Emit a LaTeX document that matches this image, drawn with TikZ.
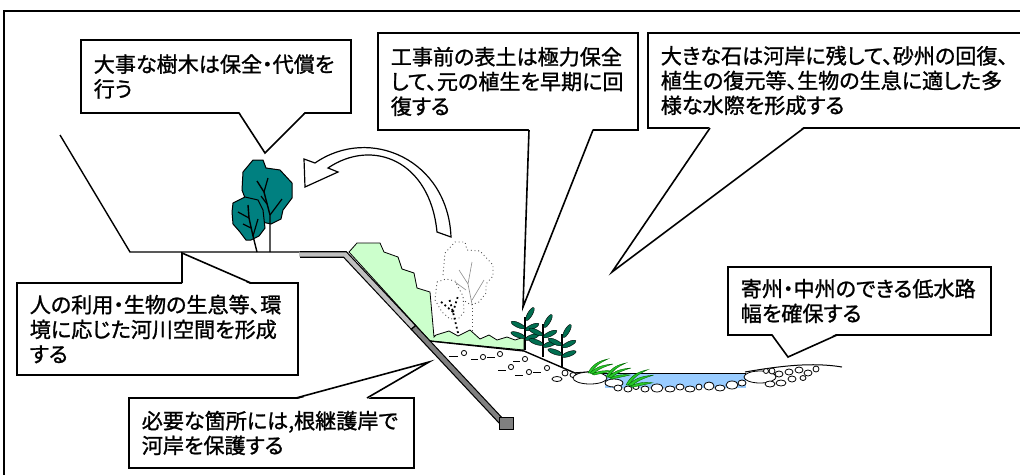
\documentclass[tikz,border=0pt]{standalone}
\usepackage{fontspec}
\setmainfont{Noto Sans CJK JP}[RawFeature=+palt]
\newfontfamily\notefont{Noto Sans CJK JP}[RawFeature=+palt, FakeBold=1.2]
\usetikzlibrary{positioning, calc}

\definecolor{treeteal}{RGB}{0,128,128}
\definecolor{soilgreen}{RGB}{204,255,204}
\definecolor{leafgreen}{RGB}{0,110,80}
\definecolor{grassgreen}{RGB}{40,200,40}
\definecolor{waterblue}{RGB}{153,204,255}
\definecolor{wallgray}{RGB}{192,192,192}
\definecolor{walldark}{RGB}{128,128,128}

\tikzset{
  note/.style={draw, fill=white, line width=0.45mm, anchor=north west, align=left,
    outer sep=0pt, inner xsep=3.2mm, inner ysep=0pt,
    font=\notefont\fontsize{15pt}{17.6pt}\selectfont},
  tail/.style={line width=0.4mm},
  outline/.style={line width=0.35mm},
  leaf/.style={fill=leafgreen, draw=black, line width=0.1mm},
  grass/.style={fill=grassgreen, draw=black!60!green, line width=0.1mm},
  stone/.style={draw, fill=white, line width=0.2mm},
  ghost/.style={draw=black!70, dotted, line width=0.22mm},
  seedling/.pic={
    \draw[line width=0.35mm] (0,0) -- (0,-33);
    \foreach \dx/\dy/\a in {5/-36/60, -7/-25/-25, 7/-23/25, -7/-15/-20, 7/-13/20}
      \filldraw[leaf, rotate around={\a:(\dx,\dy)}] (\dx,\dy) ellipse [x radius=7.5, y radius=2.4];
  },
  tuft/.pic={
    \filldraw[grass] (0,0) .. controls (4,-8) and (10,-12) .. (20,-14) .. controls (11,-10) and (6,-6) .. (3,0) -- cycle;
    \filldraw[grass] (2,0) .. controls (8,-6) and (14,-8) .. (25,-9) .. controls (15,-6) and (9,-3) .. (5,1) -- cycle;
    \filldraw[grass] (4,1) .. controls (10,-2) and (16,-3) .. (24,-2) .. controls (16,0) and (10,1) .. (6,2) -- cycle;
  }
}

% callout tail: anchor, two offsets along the edge, tip, inward shift
\newcommand{\calloutTail}[5]{%
  \fill[white] ([shift={(#2,#5)}]#1) -- (#4) -- ([shift={(#3,#5)}]#1) -- cycle;
  \draw[tail] ([shift={(#2,0)}]#1) -- (#4) -- ([shift={(#3,0)}]#1);}

\begin{document}
\begin{tikzpicture}[x=0.25mm, y=-0.25mm]
  \useasboundingbox (0,0) rectangle (1020,474);
  \clip (0,0) rectangle (1020,474);
  \draw[line width=0.45mm] (4,11) rectangle (1030,480);

  % bank outline
  \draw[outline] (60,135) -- (130,252) -- (300,252);

  % trees kept on the bank
  \filldraw[fill=treeteal, line width=0.25mm] (253,160) -- (263,160) -- (266,168) -- (280,170) -- (292,183)
    -- (292,198) -- (283,210) -- (281,219) -- (271,224) -- (262,222) -- (250,205) -- (245,198)
    -- (242,190) -- (243,172) -- cycle;
  \draw[line width=0.35mm] (270,252) -- (270,215) -- (264,192) -- (257,181);
  \draw[line width=0.3mm] (264,192) -- (268,178) (270,215) -- (282,199) (267,204) -- (261,196);
  \filldraw[fill=treeteal, line width=0.25mm] (233,203) -- (245,197) -- (258,200) -- (263,210) -- (265,228)
    -- (259,236) -- (251,240) -- (246,240) -- (240,232) -- (233,224) -- (232,212) -- cycle;
  \draw[line width=0.35mm] (257,252) -- (253,236) -- (249,218) -- (248,205);
  \draw[line width=0.3mm] (249,218) -- (238,212) (253,236) -- (258,219) (251,228) -- (243,224);

  % transplant arrow
  \filldraw[fill=white, line width=0.3mm] (315,163) -- (304,159) -- (305,187) -- (338,172) -- (328,168)
    .. controls (372,138) and (430,160) .. (437,232) -- (451,237)
    .. controls (448,160) and (370,125) .. (315,163) -- cycle;

  % topsoil kept on the slope
  \filldraw[fill=soilgreen, line width=0.2mm] (349,252) -- (357,243) -- (380,243) -- (384,252) -- (398,257)
    -- (402,269) -- (414,273) -- (417,288) -- (430,292) -- (434,337) -- (436,335) -- (449,331)
    -- (458,336) -- (470,330) -- (480,339) -- (489,335) -- (497,340) -- (507,337) -- (515,340)
    -- (524,337) -- (524,350) -- (430,341) -- cycle;

  % former tree, dotted
  \draw[ghost] (443,275) -- (445,253) -- (455,242) -- (465,242) -- (467,250) -- (480,251) -- (493,265)
    -- (493,276) -- (486,284) -- (486,293) -- (479,302) -- (471,305) -- (463,300);
  \draw[ghost] (437,282) -- (446,279) -- (455,281) -- (463,296) -- (464,312) -- (459,318) -- (450,319)
    -- (442,312) -- (435,300) -- cycle;
  \draw[ghost] (472,304) -- (472,332);
  \draw[draw=black!45, line width=0.15mm] (472,304) -- (468,284) -- (459,270) (468,284) -- (472,262)
    (472,300) -- (484,280) (466,290) -- (455,282);
  \draw[black, dotted, line width=0.45mm] (458,333) -- (453,312) -- (449,298) (453,312) -- (440,301)
    (453,312) -- (458,296);

  % revetment with root protection
  \draw[line width=1.7mm, line join=miter] (300,254.5) -- (345,254.5) -- (414,328);
  \draw[wallgray, line width=1.1mm, line join=miter] (299,254.5) -- (345,254.5) -- (413,327);
  \draw[line width=1.7mm] (413,327) -- (503,423);
  \draw[walldark, line width=1.1mm] (414,328) -- (503,423);
  \filldraw[fill=walldark, line width=0.25mm] (499,417) rectangle (513,429);

  % riverbed
  \draw[outline] (430,341) -- (524,351) -- (575,373) -- (590,372);
  \foreach \xa/\xb/\yd/\xc/\yc in {449/458/356/464/353, 471/478/359/483/357, 487/495/357/500/354,
      513/520/361/525/359, 498/506/370/511/367, 515/523/375/529/372, 533/541/372/547/368}
  {
    \draw[line width=0.25mm] (\xa,\yd) -- (\xb,\yd);
    \draw[stone] (\xc,\yc) circle [radius=2.6];
  }
  \pic at (525,350) {seedling};
  \pic at (543,357) {seedling};
  \pic at (562,367) {seedling};

  % low-water channel
  \fill[waterblue] (605,373) -- (746,373) -- (746,388) -- (605,388) -- cycle;
  \draw[line width=0.25mm] (600,373) -- (746,373);
  \draw[line width=0.25mm] (745,372) .. controls (780,366) and (812,362) .. (842,367);
  \foreach \x/\y/\rx/\ry in {557/379/5/2.5, 565/373/3/3, 573/375/3/2.5, 590/378/17/6, 614/383/9/4,
      618/388/4/3, 628/389/4/3, 636/387/3/2.5, 645/389/4/3, 657/388/6/4, 670/389/5/3, 680/387/4/3,
      690/389/5/3, 699/387/3/3, 709/386/5/4, 720/388/5/3, 732/385/6/4, 742/383/4/3,
      760/377/16/6, 766/371/2.5/2.5, 772/371/3/3, 779/374/4/3, 789/372/4/3, 799/370/4/3, 808/373/4/3,
      816/369/3/3, 770/384/5/3, 781/383/5/3, 792/379/4/3, 803/378/3/2.5}
    \draw[stone] (\x,\y) ellipse [x radius=\rx, y radius=\ry];
  \pic at (588,373) {tuft};
  \pic at (606,377) {tuft};
  \pic[scale=1.1] at (626,385) {tuft};

  % callouts
  \node[note, text width=61.1mm, minimum height=18.25mm] (keepTrees) at (81,40)
    {大事な樹木は保全・代償を\\行う};
  \node[note, text width=58.6mm, minimum height=24.25mm] (topsoil) at (378,33)
    {工事前の表土は極力保全\\して、元の植生を早期に回\\復する};
  \node[note, text width=88.6mm, minimum height=23.75mm] (bigStones) at (648,33)
    {大きな石は河岸に残して、砂州の回復、\\植生の復元等、生物の生息に適した多\\様な水際を形成する};
  \node[note, text width=63.85mm, minimum height=23mm] (riverSpace) at (17,283)
    {人の利用・生物の生息等、環\\境に応じた河川空間を形成\\する};
  \node[note, text width=64.85mm, minimum height=17.5mm] (rootRevet) at (129,398)
    {必要な箇所には,根継護岸で\\河岸を保護する};
  \node[note, text width=59.35mm, minimum height=17mm] (lowChannel) at (728,267)
    {寄州・中州のできる低水路\\幅を確保する};

  \coordinate (treeTip) at (265,153);
  \coordinate (soilTip) at (523,307);
  \coordinate (stoneTip) at (612,272);
  \coordinate (spaceTip) at (182,253);
  \coordinate (revetTip) at (429,362);
  \coordinate (channelTip) at (788,357);

  \calloutTail{keepTrees.south west}{158}{224}{treeTip}{-1.5}
  \calloutTail{topsoil.south west}{151}{215}{soilTip}{-1.5}
  \calloutTail{bigStones.south west}{62}{156}{stoneTip}{-1.5}
  \calloutTail{riverSpace.north west}{165}{234}{spaceTip}{1.5}
  \calloutTail{rootRevet.north west}{167}{238}{revetTip}{1.5}
  \calloutTail{lowChannel.south west}{44}{109}{channelTip}{-1.5}
\end{tikzpicture}
\end{document}
